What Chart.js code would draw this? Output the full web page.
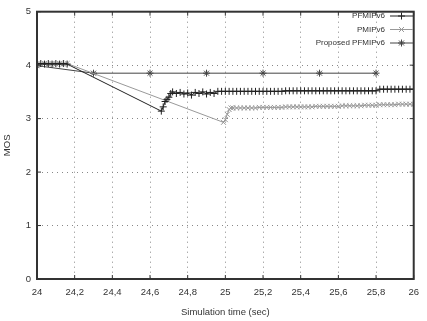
<!DOCTYPE html>
<html>
<head>
<meta charset="utf-8">
<script src="https://cdn.jsdelivr.net/npm/chart.js@4/dist/chart.umd.min.js"></script>
<style>
  html, body { margin: 0; padding: 0; background: #fff; }
  #wrap { width: 427px; height: 321px; }
</style>
</head>
<body>
<div id="wrap"><canvas id="mosChart"></canvas></div>
<script>
// series data (time in sec, MOS)
const seriesNames = ['PFMIPv6', 'PMIPv6', 'Proposed PFMIPv6'];

const pfmipTime = [24.00, 24.02, 24.04, 24.06, 24.08, 24.10, 24.12, 24.14, 24.16,
  24.66, 24.67, 24.68, 24.69, 24.70, 24.71, 24.72, 24.74, 24.76, 24.78, 24.80,
  24.82, 24.84, 24.86, 24.88, 24.90, 24.92, 24.94, 24.96, 24.98,
  25.00, 25.02, 25.04, 25.06, 25.08, 25.10, 25.12, 25.14, 25.16, 25.18, 25.20,
  25.22, 25.24, 25.26, 25.28, 25.30, 25.32, 25.34, 25.36, 25.38, 25.40, 25.42,
  25.44, 25.46, 25.48, 25.50, 25.52, 25.54, 25.56, 25.58, 25.60, 25.62, 25.64,
  25.66, 25.68, 25.70, 25.72, 25.74, 25.76, 25.78, 25.80, 25.82, 25.84, 25.86,
  25.88, 25.90, 25.92, 25.94, 25.96, 25.98, 26.00];
const pfmipMos = [4.02, 4.03, 4.02, 4.03, 4.02, 4.03, 4.02, 4.03, 4.02,
  3.14, 3.22, 3.32, 3.36, 3.40, 3.47, 3.50, 3.47, 3.49, 3.46, 3.48,
  3.44, 3.49, 3.47, 3.50, 3.46, 3.49, 3.47, 3.51, 3.51,
  3.51, 3.51, 3.51, 3.51, 3.51, 3.51, 3.51, 3.51, 3.51, 3.51, 3.51,
  3.51, 3.51, 3.51, 3.51, 3.51, 3.52, 3.52, 3.52, 3.52, 3.52, 3.52,
  3.52, 3.52, 3.52, 3.52, 3.52, 3.52, 3.52, 3.52, 3.52, 3.52, 3.52,
  3.52, 3.52, 3.52, 3.52, 3.52, 3.52, 3.52, 3.52, 3.55, 3.55, 3.55,
  3.55, 3.55, 3.55, 3.55, 3.55, 3.55, 3.55];

const pmipTime = [24.00, 24.02, 24.04, 24.06, 24.08, 24.10, 24.12, 24.14, 24.16,
  24.99, 25.00, 25.01, 25.02, 25.03, 25.04, 25.06, 25.08, 25.10, 25.12, 25.14,
  25.16, 25.18, 25.20, 25.22, 25.24, 25.26, 25.28, 25.30, 25.32, 25.34, 25.36,
  25.38, 25.40, 25.42, 25.44, 25.46, 25.48, 25.50, 25.52, 25.54, 25.56, 25.58,
  25.60, 25.62, 25.64, 25.66, 25.68, 25.70, 25.72, 25.74, 25.76, 25.78, 25.80,
  25.82, 25.84, 25.86, 25.88, 25.90, 25.92, 25.94, 25.96, 25.98, 26.00];
const pmipMos = [4.03, 4.02, 4.03, 4.02, 4.03, 4.02, 4.03, 4.02, 4.03,
  2.93, 2.98, 3.08, 3.17, 3.20, 3.20, 3.20, 3.20, 3.20, 3.20, 3.20,
  3.20, 3.21, 3.21, 3.21, 3.21, 3.21, 3.21, 3.21, 3.22, 3.22, 3.22,
  3.22, 3.22, 3.22, 3.22, 3.22, 3.23, 3.23, 3.23, 3.23, 3.23, 3.23,
  3.23, 3.24, 3.24, 3.24, 3.24, 3.24, 3.24, 3.25, 3.25, 3.25, 3.25,
  3.26, 3.26, 3.26, 3.26, 3.26, 3.27, 3.27, 3.27, 3.27, 3.27];

const proposedTime = [24.00, 24.30, 24.60, 24.90, 25.20, 25.50, 25.80];
const proposedMos = [3.99, 3.85, 3.85, 3.85, 3.85, 3.85, 3.85];

const xTicks = [24, 24.2, 24.4, 24.6, 24.8, 25, 25.2, 25.4, 25.6, 25.8, 26];
const yTicks = [0, 1, 2, 3, 4, 5];

const colors = ['#222', '#999', '#444'];
const markers = ['cross', 'crossRot', 'star'];

function toPoints(xs, ys) {
  return xs.map((x, i) => ({ x: x, y: ys[i] }));
}

const FONT = "'Liberation Sans', 'DejaVu Sans', sans-serif";
const FSIZE = 9.5;

// gnuplot-like frame, inward ticks and key
const framePlugin = {
  id: 'frame',
  afterDraw(chart) {
    const ctx = chart.ctx;
    const a = chart.chartArea;
    const xs = chart.scales.x, ys = chart.scales.y;
    ctx.save();
    ctx.strokeStyle = '#333';
    ctx.lineWidth = 2;
    ctx.strokeRect(a.left, a.top, a.right - a.left, a.bottom - a.top);
    ctx.lineWidth = 1;
    ctx.beginPath();
    xTicks.forEach(v => {
      const px = xs.getPixelForValue(v);
      ctx.moveTo(px, a.bottom); ctx.lineTo(px, a.bottom - 4);
      ctx.moveTo(px, a.top); ctx.lineTo(px, a.top + 4);
    });
    yTicks.forEach(v => {
      const py = ys.getPixelForValue(v);
      ctx.moveTo(a.left, py); ctx.lineTo(a.left + 4, py);
      ctx.moveTo(a.right, py); ctx.lineTo(a.right - 4, py);
    });
    ctx.stroke();

    // key, top right
    ctx.font = '8px ' + FONT;
    ctx.textAlign = 'right';
    ctx.textBaseline = 'middle';
    chart.data.datasets.forEach((ds, i) => {
      const y = 16 + i * 13.5;
      ctx.fillStyle = '#333';
      ctx.fillText(ds.label, 385, y);
      ctx.strokeStyle = ds.borderColor;
      ctx.beginPath();
      ctx.moveTo(390, y); ctx.lineTo(413, y);
      ctx.stroke();
      Chart.helpers.drawPoint(ctx, {
        pointStyle: ds.pointStyle, radius: 3.5, rotation: 0, borderWidth: 1
      }, 401.5, y);
    });
    ctx.restore();
  }
};

const datasets = [
  toPoints(pfmipTime, pfmipMos),
  toPoints(pmipTime, pmipMos),
  toPoints(proposedTime, proposedMos)
].map((pts, i) => ({
  label: seriesNames[i],
  data: pts,
  borderColor: colors[i],
  backgroundColor: colors[i],
  borderWidth: 1,
  pointStyle: markers[i],
  pointRadius: 3.5,
  pointBorderWidth: 1,
  pointBorderColor: colors[i],
  pointHoverRadius: 3.5,
  tension: 0
}));

const ctxMos = document.getElementById('mosChart').getContext('2d');
const mosChart = new Chart(ctxMos, {
  type: 'line',
  data: { datasets: datasets },
  options: {
    responsive: true,
    maintainAspectRatio: false,
    animation: false,
    layout: { padding: { top: 8, right: 6, left: 0, bottom: 0 } },
    plugins: { legend: { display: false }, tooltip: { enabled: false } },
    scales: {
      x: {
        type: 'linear',
        min: 24,
        max: 26,
        afterBuildTicks(scale) { scale.ticks = xTicks.map(v => ({ value: v })); },
        afterFit(scale) { scale.height = 42; },
        ticks: {
          color: '#333',
          font: { size: FSIZE, family: FONT },
          padding: 8,
          maxRotation: 0,
          autoSkip: false,
          callback: v => String(Number(v.toFixed(1))).replace('.', ',')
        },
        grid: {
          color: '#888',
          lineWidth: 1,
          drawTicks: false,
          tickLength: 0
        },
        border: { display: false, dash: [1, 4] },
        title: {
          display: true,
          text: 'Simulation time (sec)',
          color: '#333',
          font: { size: FSIZE, family: FONT },
          padding: { top: 0, bottom: 3 }
        }
      },
      y: {
        min: 0,
        max: 5,
        afterBuildTicks(scale) { scale.ticks = yTicks.map(v => ({ value: v })); },
        afterFit(scale) { scale.width = 37; },
        ticks: {
          color: '#333',
          font: { size: FSIZE, family: FONT },
          padding: 6
        },
        grid: {
          color: '#888',
          lineWidth: 1,
          drawTicks: false,
          tickLength: 0
        },
        border: { display: false, dash: [1, 4] },
        title: {
          display: true,
          text: 'MOS',
          color: '#333',
          font: { size: FSIZE, family: FONT },
          padding: { top: 2, bottom: 0 }
        }
      }
    }
  },
  plugins: [framePlugin]
});
</script>
</body>
</html>
